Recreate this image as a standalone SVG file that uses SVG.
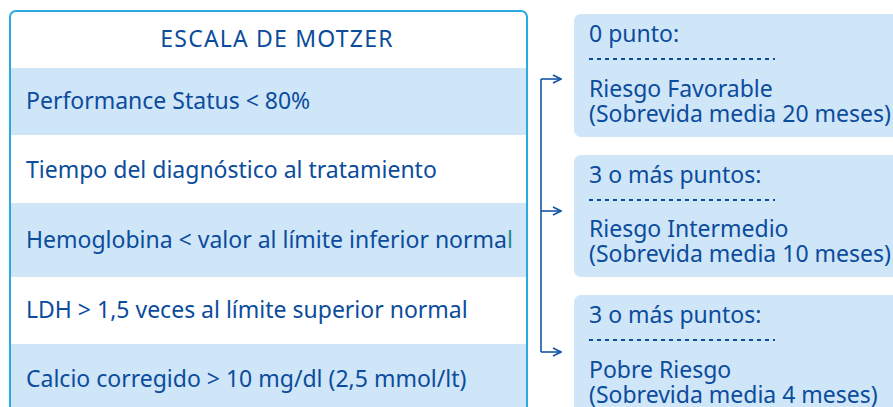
<svg xmlns="http://www.w3.org/2000/svg" width="893" height="407" viewBox="0 0 893 407">
<defs>
<style>
.t{font-family:"Noto Sans","Liberation Sans",sans-serif;font-size:23px;fill:#0b4c9c}
.h{letter-spacing:1.2px}
.band{fill:#cfe5f8}
.dot{stroke:#0b4c9c;stroke-width:2;stroke-dasharray:4 4}
.con{stroke:#1456a6;stroke-width:1.6;fill:none}
</style>
<marker id="ah" viewBox="0 0 10 10" refX="9" refY="5" markerWidth="10" markerHeight="10" markerUnits="userSpaceOnUse" orient="auto">
<path d="M1,1 L9,5 L1,9" fill="none" stroke="#1456a6" stroke-width="1.6"/>
</marker>
</defs>
<rect width="893" height="407" fill="#fff"/>
<g id="table">
<rect x="10" y="11" width="517" height="420" rx="6" fill="#fff" stroke="#29abe2" stroke-width="2"/>
<rect class="band" x="11" y="68" width="515" height="67"/>
<rect class="band" x="11" y="203" width="515" height="74"/>
<rect class="band" x="11" y="344" width="515" height="70"/>
<text class="t h" x="277" y="47" text-anchor="middle">ESCALA DE MOTZER</text>
<text class="t" x="26" y="109">Performance Status &lt; 80%</text>
<text class="t" x="26" y="178">Tiempo del diagnóstico al tratamiento</text>
<text class="t" x="26" y="248">Hemoglobina &lt; valor al límite inferior norma<tspan fill="#2a8a84">l</tspan></text>
<text class="t" x="26" y="318">LDH &gt; 1,5 veces al límite superior normal</text>
<text class="t" x="26" y="387">Calcio corregido &gt; 10 mg/dl (2,5 mmol/lt)</text>
</g>
<g id="risk-favorable">
<rect class="band" x="574" y="14" width="340" height="123" rx="7"/>
<text class="t" x="589" y="42">0 punto:</text>
<line class="dot" x1="589" y1="59" x2="775" y2="59"/>
<text class="t" x="589" y="97">Riesgo Favorable<tspan x="589" dy="25">(Sobrevida media 20 meses)</tspan></text>
</g>
<g id="risk-intermedio">
<rect class="band" x="574" y="155" width="340" height="122" rx="7"/>
<text class="t" x="589" y="183">3 o más puntos:</text>
<line class="dot" x1="589" y1="200" x2="775" y2="200"/>
<text class="t" x="589" y="237">Riesgo Intermedio<tspan x="589" dy="25">(Sobrevida media 10 meses)</tspan></text>
</g>
<g id="risk-pobre">
<rect class="band" x="574" y="295" width="340" height="130" rx="7"/>
<text class="t" x="589" y="323">3 o más puntos:</text>
<line class="dot" x1="589" y1="340" x2="775" y2="340"/>
<text class="t" x="589" y="378">Pobre Riesgo<tspan x="589" dy="25">(Sobrevida media 4 meses)</tspan></text>
</g>
<g id="connectors">
<path class="con" d="M541,79 L541,352"/>
<path class="con" d="M541,79 L561,79" marker-end="url(#ah)"/>
<path class="con" d="M541,211 L561,211" marker-end="url(#ah)"/>
<path class="con" d="M541,352 L561,352" marker-end="url(#ah)"/>
</g>
</svg>
